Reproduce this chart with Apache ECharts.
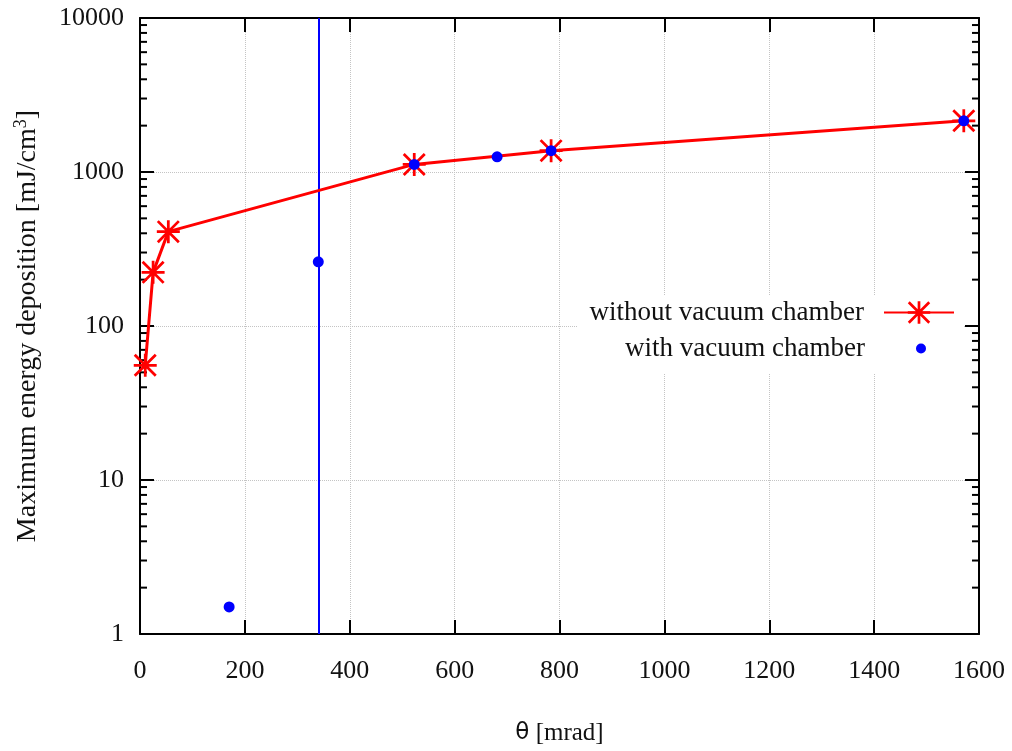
<!DOCTYPE html>
<html>
<head>
<meta charset="utf-8">
<script src="https://cdn.jsdelivr.net/npm/echarts@6/dist/echarts.min.js"></script>
<style>
html,body{margin:0;padding:0;background:#fff;}
#chart{width:1012px;height:751px;}
</style>
</head>
<body>
<div id="chart"></div>
<script>
// ---- data ----
const withoutX = [10, 25, 54, 523, 784, 1571];
const withoutY = [55.6, 223, 410, 1120, 1376, 2150];
const withX = [170, 340, 523, 681, 784, 1571];
const withY = [1.5, 261, 1120, 1254, 1376, 2150];
const errorBarX = [340];
const xTicks = [0, 200, 400, 600, 800, 1000, 1200, 1400, 1600];
const yDecades = [1, 10, 100, 1000, 10000];
const seriesNames = ['without vacuum chamber', 'with vacuum chamber'];

const minorVals = [];
for (let d = 0; d < yDecades.length - 1; d++) {
  for (let m = 2; m <= 9; m++) minorVals.push([0, m * yDecades[d]]);
}

const FONT = '"Liberation Serif", "DejaVu Serif", serif';
const starPath = 'path://M44 0 L56 0 L56 100 L44 100 Z M0 44 L100 44 L100 56 L0 56 Z ' +
  'M0 8.5 L8.5 0 L100 91.5 L91.5 100 Z M91.5 0 L100 8.5 L8.5 100 L0 91.5 Z';

const chart = echarts.init(document.getElementById('chart'), null, {renderer: 'canvas'});
const xMin = xTicks[0], xMax = xTicks[xTicks.length - 1];

const axisLabel = {fontFamily: FONT, fontSize: 26, color: '#111', formatter: v => String(v)};

chart.setOption({
  animation: false,
  backgroundColor: '#fff',
  grid: {left: 140, right: 33, top: 18, bottom: 111, containLabel: false},
  xAxis: [{
    type: 'value', min: xMin, max: xMax, interval: 200,
    axisLine: {show: true, onZero: false, lineStyle: {color: '#000', width: 2}},
    axisTick: {show: true, inside: true, length: 14, lineStyle: {color: '#000', width: 2}},
    axisLabel: Object.assign({margin: 24}, axisLabel),
    splitLine: {show: true, lineStyle: {color: '#c4c4c4', type: 'dotted', width: 1}},
    name: '{th|θ} [mrad]',
    nameLocation: 'middle', nameGap: 87,
    nameTextStyle: {fontFamily: FONT, fontSize: 25, color: '#111',
      rich: {th: {fontFamily: '"DejaVu Sans", sans-serif', fontSize: 23, color: '#111'}}}
  }, {
    type: 'value', min: xMin, max: xMax, interval: 200, position: 'top',
    axisLine: {show: true, onZero: false, lineStyle: {color: '#000', width: 2}},
    axisTick: {show: true, inside: true, length: 14, lineStyle: {color: '#000', width: 2}},
    axisLabel: {show: false}, splitLine: {show: false}
  }],
  yAxis: [{
    type: 'log', logBase: 10, min: yDecades[0], max: yDecades[yDecades.length - 1],
    axisLine: {show: true, onZero: false, lineStyle: {color: '#000', width: 2}},
    axisTick: {show: true, inside: true, length: 14, lineStyle: {color: '#000', width: 2}},
    axisLabel: Object.assign({margin: 16}, axisLabel),
    splitLine: {show: true, lineStyle: {color: '#c4c4c4', type: 'dotted', width: 1}},
    name: 'Maximum energy deposition [mJ/cm{sup|3}]',
    nameLocation: 'middle', nameGap: 96, nameRotate: 90,
    nameTextStyle: {fontFamily: FONT, fontSize: 28, color: '#111',
      rich: {sup: {fontFamily: FONT, fontSize: 18, color: '#111', verticalAlign: 'top', padding: [0, 0, 14, 0]}}}
  }, {
    type: 'log', logBase: 10, min: yDecades[0], max: yDecades[yDecades.length - 1], position: 'right',
    axisLine: {show: true, onZero: false, lineStyle: {color: '#000', width: 2}},
    axisTick: {show: true, inside: true, length: 14, lineStyle: {color: '#000', width: 2}},
    axisLabel: {show: false}, splitLine: {show: false}
  }],
  legend: [{
    data: [seriesNames[0]],
    right: 49, top: 295, orient: 'vertical', align: 'right',
    itemWidth: 70, itemHeight: 28,
    backgroundColor: '#fff', padding: [4, 8, 12, 12],
    textStyle: {fontFamily: FONT, fontSize: 27, color: '#111', padding: [0, 15, 0, 0]}
  }, {
    data: [seriesNames[1]],
    right: 78, top: 327, orient: 'vertical', align: 'right',
    itemWidth: 10, itemHeight: 10,
    backgroundColor: '#fff', padding: [8, 8, 12, 8],
    textStyle: {fontFamily: FONT, fontSize: 27, color: '#111', padding: [0, 46, 0, 0]}
  }],
  series: [{
    type: 'custom',
    name: 'minor',
    silent: true,
    data: minorVals,
    z: 5,
    renderItem: function (params, api) {
      const v = api.value(1);
      const l = api.coord([xMin, v]);
      const r = api.coord([xMax, v]);
      const st = {stroke: '#000', lineWidth: 2};
      return {type: 'group', children: [
        {type: 'line', shape: {x1: l[0], y1: l[1], x2: l[0] + 7, y2: l[1]}, style: st},
        {type: 'line', shape: {x1: r[0], y1: r[1], x2: r[0] - 7, y2: r[1]}, style: st}
      ]};
    }
  }, {
    name: seriesNames[0],
    type: 'line',
    data: withoutX.map((x, i) => [x, withoutY[i]]),
    symbol: starPath,
    symbolSize: 23,
    color: '#ff0000',
    lineStyle: {color: '#ff0000', width: 3},
    itemStyle: {color: '#ff0000'},
    z: 10
  }, {
    name: seriesNames[1],
    type: 'scatter',
    data: withX.map((x, i) => [x, withY[i]]),
    symbol: 'circle',
    symbolSize: 11,
    color: '#0000ff',
    itemStyle: {color: '#0000ff', opacity: 1},
    z: 11,
    markLine: {
      silent: true, symbol: 'none',
      label: {show: false},
      lineStyle: {color: '#0000ff', width: 2, type: 'solid'},
      data: errorBarX.map(x => ({xAxis: x}))
    }
  }]
});
</script>
</body>
</html>
